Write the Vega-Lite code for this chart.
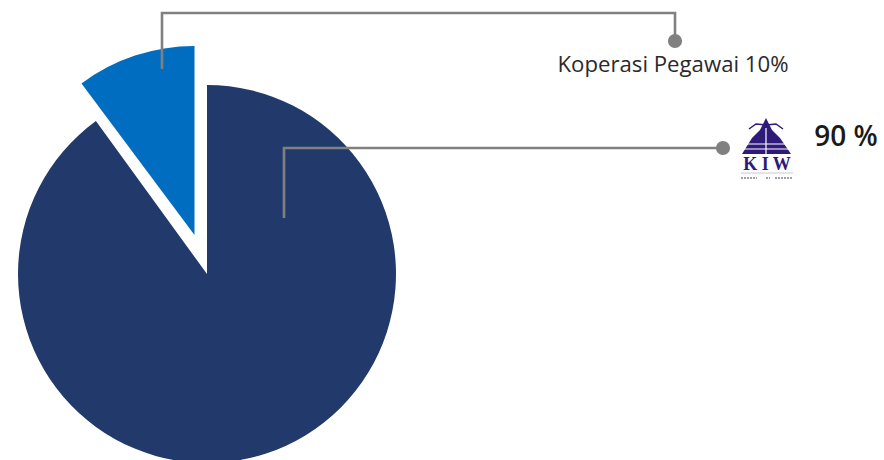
{
"$schema":"https://vega.github.io/schema/vega-lite/v6.json",
"width":884,"height":460,"padding":0,"autosize":{"type":"none"},
"background":"white","view":{"stroke":null},
"encoding":{
 "x":{"field":"x","type":"quantitative","axis":null,"scale":{"domain":[0,884]}},
 "y":{"field":"y","type":"quantitative","axis":null,"scale":{"domain":[460,0]}}
},
"layer":[
{"data":{"values":[{"x":207,"y":274,"from":0,"to":90}]},
 "mark":{"type":"arc","outerRadius":189,"color":"#213a6b"},
 "encoding":{"theta":{"field":"from","type":"quantitative","stack":null,"scale":{"domain":[0,100],"range":[0,6.2832]}},"theta2":{"field":"to"}}},
{"data":{"values":[{"x":194.5,"y":235,"from":89.8,"to":100}]},
 "mark":{"type":"arc","outerRadius":189,"color":"#016dc0"},
 "encoding":{"theta":{"field":"from","type":"quantitative","stack":null,"scale":{"domain":[0,100],"range":[0,6.2832]}},"theta2":{"field":"to"}}},
{"data":{"values":[{"x":162,"y":69,"o":0,"s":"a"},{"x":162,"y":13,"o":1,"s":"a"},{"x":675,"y":13,"o":2,"s":"a"},{"x":675,"y":41,"o":3,"s":"a"},{"x":284,"y":218,"o":0,"s":"b"},{"x":284,"y":148,"o":1,"s":"b"},{"x":723,"y":148,"o":2,"s":"b"}]},
 "mark":{"type":"line","color":"#808080","strokeWidth":2.6,"strokeJoin":"miter"},
 "encoding":{"order":{"field":"o"},"detail":{"field":"s"}}},
{"data":{"values":[{"x":675,"y":41},{"x":723,"y":148}]},
 "mark":{"type":"point","filled":true,"size":200,"color":"#808080","opacity":1}},
{"data":{"values":[{"x":673,"y":65,"t":"Koperasi Pegawai 10%"}]},
 "mark":{"type":"text","font":"Open Sans","fontSize":22.2,"color":"#2a2a2a","align":"center","baseline":"middle"},
 "encoding":{"text":{"field":"t"}}},
{"data":{"values":[{"x":846,"y":138,"t":"90 %"}]},
 "mark":{"type":"text","font":"Open Sans","fontSize":28,"fontWeight":600,"color":"#1a1a1a","align":"center","baseline":"middle"},
 "encoding":{"text":{"field":"t"}}},
{"data":{"values":[{"x":742,"y":154,"y2":154},{"x":752,"y":138,"y2":154},{"x":760,"y":130,"y2":154},{"x":766,"y":118,"y2":154},{"x":772,"y":130,"y2":154},{"x":780,"y":138,"y2":154},{"x":791,"y":154,"y2":154}]},
 "mark":{"type":"area","color":"#2e1a78","opacity":1},
 "encoding":{"y2":{"field":"y2"}}},
{"data":{"values":[{"x":749,"y":129,"o":0,"s":"l"},{"x":756,"y":124,"o":1,"s":"l"},{"x":766,"y":125,"o":2,"s":"l"},{"x":776,"y":124,"o":3,"s":"r"},{"x":783,"y":129,"o":4,"s":"r"},{"x":766,"y":125,"o":2,"s":"r"}]},
 "mark":{"type":"line","color":"#2e1a78","strokeWidth":1.5},
 "encoding":{"order":{"field":"o"},"detail":{"field":"s"}}},
{"data":{"values":[{"x":742,"y":144,"o":0,"s":"1"},{"x":791,"y":144,"o":1,"s":"1"},{"x":742,"y":149,"o":0,"s":"2"},{"x":791,"y":149,"o":1,"s":"2"},{"x":766,"y":128,"o":0,"s":"3"},{"x":766,"y":154,"o":1,"s":"3"}]},
 "mark":{"type":"line","color":"#ffffff","strokeWidth":1.2},
 "encoding":{"order":{"field":"o"},"detail":{"field":"s"}}},
{"data":{"values":[{"x":767,"y":165,"t":"K I W"}]},
 "mark":{"type":"text","font":"Liberation Serif","fontSize":18,"fontWeight":"bold","color":"#2e1a78","align":"center","baseline":"middle","letterSpacing":5.5},
 "encoding":{"text":{"field":"t"}}},
{"data":{"values":[{"x":741,"y":173,"o":0},{"x":793,"y":173,"o":1}]},
 "mark":{"type":"line","color":"#c9c6dc","strokeWidth":1},
 "encoding":{"order":{"field":"o"}}},
{"data":{"values":[{"x":741,"y":178,"o":0,"s":"1"},{"x":757,"y":178,"o":1,"s":"1"},{"x":766,"y":178,"o":0,"s":"2"},{"x":770,"y":178,"o":1,"s":"2"},{"x":775,"y":178,"o":0,"s":"3"},{"x":792,"y":178,"o":1,"s":"3"}]},
 "mark":{"type":"line","color":"#7f7f9f","strokeWidth":1.5,"strokeDash":[2,1]},
 "encoding":{"order":{"field":"o"},"detail":{"field":"s"}}}
]
}
